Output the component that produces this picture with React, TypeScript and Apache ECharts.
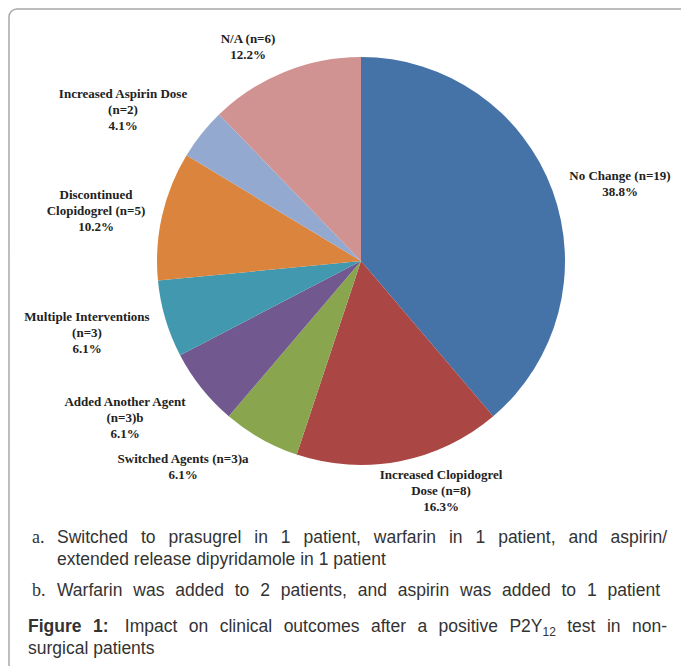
import React, { useEffect, useRef } from "react";
import * as echarts from "echarts";

const categories = [
  "No Change (n=19)",
  "Increased Clopidogrel\nDose (n=8)",
  "Switched Agents (n=3)a",
  "Added Another Agent\n(n=3)b",
  "Multiple Interventions\n(n=3)",
  "Discontinued\nClopidogrel (n=5)",
  "Increased Aspirin Dose\n(n=2)",
  "N/A (n=6)",
];
const counts = [19, 8, 3, 3, 3, 5, 2, 6];
const colors = ["#4572A7", "#AA4643", "#89A54E", "#71588F", "#4198AF", "#DB843D", "#93A9CF", "#D19392"];

// label block centres (layout only)
const labelCenters: number[][] = [
  [620, 183], [441, 490], [183, 466], [125, 417], [87, 332], [96, 210], [123, 109], [248, 46],
];

const footA1 = "Switched to prasugrel in 1 patient, warfarin in 1 patient, and aspirin/";
const footA2 = "extended release dipyridamole in 1 patient";
const footB = "Warfarin was added to 2 patients, and aspirin was added to 1 patient";
const captionBold = "Figure 1:";
const captionPre = "Impact on clinical outcomes after a positive P2Y";
const captionSub = "12";
const captionPost = "test in non-";
const captionLine2 = "surgical patients";

type Part = { t: string; b?: boolean; sub?: boolean };

const SANS = "'Liberation Sans', Arial, sans-serif";
const SERIF = "'Liberation Serif', 'Times New Roman', serif";
const FS = 17.5;

let ctx: CanvasRenderingContext2D | null = null;
function measure(p: Part): number {
  if (!ctx) ctx = document.createElement("canvas").getContext("2d");
  const size = p.sub ? 12 : FS;
  ctx!.font = `${p.b ? "bold" : "normal"} ${size}px ${SANS}`;
  return ctx!.measureText(p.t).width;
}

function wordsOf(s: string, bold = false): Part[][] {
  return s.split(" ").map((w) => [{ t: w, b: bold }]);
}

function buildLine(words: Part[][], x0: number, x1: number | null, y: number, extraAfter = -1): any[] {
  const widths = words.map((w) => w.reduce((a, p) => a + measure(p), 0));
  const total = widths.reduce((a, b) => a + b, 0);
  const space = measure({ t: " " });
  const extra = extraAfter >= 0 ? space : 0;
  const gap = x1 != null && words.length > 1 ? (x1 - x0 - total - extra) / (words.length - 1) : space;
  const els: any[] = [];
  let x = x0;
  words.forEach((w, i) => {
    let cx = x;
    w.forEach((p) => {
      els.push({
        type: "text",
        x: cx,
        y: y + (p.sub ? 6 : 0),
        style: {
          text: p.t,
          fontSize: p.sub ? 12 : FS,
          fontFamily: SANS,
          fontWeight: p.b ? "bold" : "normal",
          fill: "#333",
          align: "left",
          verticalAlign: "middle",
        },
      });
      cx += measure(p);
    });
    x += widths[i] + gap + (i === extraAfter ? extra : 0);
  });
  return els;
}

export default function App() {
  const ref = useRef<HTMLDivElement>(null);
  useEffect(() => {
    if (!ref.current) return;
    const chart = echarts.init(ref.current, null, { renderer: "svg" });
    const total = counts.reduce((a, b) => a + b, 0);

    const captionWords: Part[][] = [
      ...wordsOf(captionBold, true),
      ...wordsOf(captionPre).slice(0, -1),
      [{ t: "P2Y" }, { t: captionSub, sub: true }],
      ...wordsOf(captionPost),
    ];

    const graphic: any[] = [
      {
        type: "rect",
        shape: { x: 9, y: 9, width: 720, height: 720, r: 8 },
        style: { fill: "none", stroke: "#a8a8a8", lineWidth: 1.5 },
        silent: true,
      },
      {
        type: "text",
        x: 32,
        y: 537,
        style: { text: "a.", fontSize: 18, fontFamily: SERIF, fill: "#333", verticalAlign: "middle" },
      },
      {
        type: "text",
        x: 32,
        y: 590,
        style: { text: "b.", fontSize: 18, fontFamily: SERIF, fill: "#333", verticalAlign: "middle" },
      },
      ...buildLine(wordsOf(footA1), 57, 667, 537),
      ...buildLine(wordsOf(footA2), 57, null, 559),
      ...buildLine(wordsOf(footB), 57, 660, 590),
      ...buildLine(captionWords, 28, 667, 626, 1),
      ...buildLine(wordsOf(captionLine2), 28, null, 648),
    ];

    chart.setOption({
      animation: false,
      backgroundColor: "#fff",
      graphic,
      series: [
        {
          type: "pie",
          center: [361, 261],
          radius: 204,
          startAngle: 90,
          clockwise: true,
          label: {
            show: true,
            position: "outside",
            overflow: "none",
            formatter: (p: any) => `${p.name}\n${((p.value / total) * 100).toFixed(1)}%`,
            fontFamily: SERIF,
            fontWeight: "bold",
            fontSize: 13,
            lineHeight: 16,
            color: "#222",
            align: "center",
          },
          labelLine: { show: false },
          labelLayout: (params: any) => {
            const c = labelCenters[params.dataIndex];
            return { x: c[0], y: c[1], align: "center", verticalAlign: "middle" };
          },
          itemStyle: { borderWidth: 0 },
          emphasis: { disabled: true },
          data: categories.map((name, i) => ({
            name,
            value: counts[i],
            itemStyle: { color: colors[i] },
          })),
        },
      ],
    });
    return () => chart.dispose();
  }, []);
  return (
    <div
      ref={ref}
      style={{ position: "absolute", left: 0, top: 0, width: 681, height: 666 }}
    />
  );
}
